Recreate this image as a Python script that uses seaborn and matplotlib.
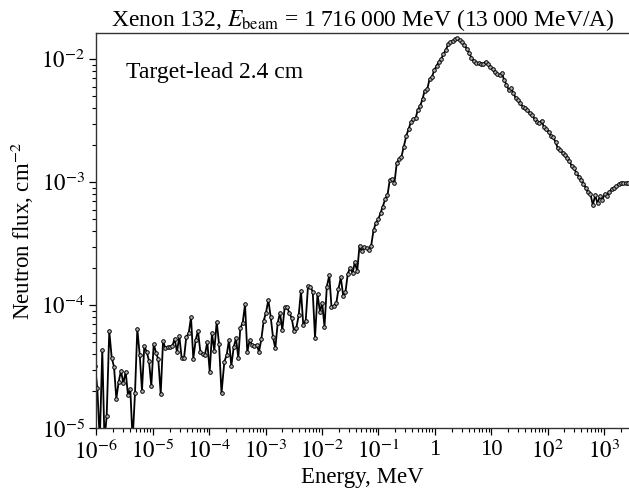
import numpy as np
import pandas as pd
import matplotlib
matplotlib.use("Agg")
import matplotlib.pyplot as plt
import matplotlib.ticker as mticker
import seaborn as sns

# log10 of energy (MeV) and log10 of neutron flux (cm^-2)
log_energy = [
    -6.023, -5.982, -5.938, -5.894, -5.855, -5.816, -5.770, -5.727, -5.686, -5.645,
    -5.603, -5.562, -5.521, -5.479, -5.438, -5.397, -5.356, -5.314, -5.273, -5.230,
    -5.190, -5.149, -5.106, -5.066, -5.025, -4.982, -4.941, -4.901, -4.858, -4.817,
    -4.777, -4.734, -4.693, -4.652, -4.610, -4.569, -4.528, -4.486, -4.445, -4.404,
    -4.362, -4.321, -4.280, -4.238, -4.197, -4.156, -4.113, -4.073, -4.032, -3.989,
    -3.949, -3.908, -3.865, -3.824, -3.780, -3.730, -3.688, -3.647, -3.606, -3.564,
    -3.523, -3.482, -3.447, -3.404, -3.363, -3.323, -3.280, -3.239, -3.199, -3.156,
    -3.115, -3.074, -3.032, -2.991, -2.950, -2.908, -2.867, -2.826, -2.784, -2.743,
    -2.702, -2.660, -2.619, -2.578, -2.535, -2.495, -2.454, -2.411, -2.371, -2.330,
    -2.287, -2.246, -2.206, -2.163, -2.122, -2.078, -2.034, -1.995, -1.954, -1.913,
    -1.869, -1.830, -1.785, -1.745, -1.706, -1.665, -1.622, -1.582, -1.541, -1.498,
    -1.456, -1.417, -1.374, -1.333, -1.293, -1.250, -1.209, -1.168, -1.126, -1.085,
    -1.044, -1.002, -0.961, -0.920, -0.878, -0.837, -0.796, -0.754, -0.713, -0.672,
    -0.630, -0.589, -0.548, -0.505, -0.464, -0.424, -0.381, -0.340, -0.300, -0.257,
    -0.216, -0.176, -0.133, -0.092, -0.051, -0.009, 0.032, 0.073, 0.115, 0.156,
    0.197, 0.239, 0.280, 0.321, 0.363, 0.404, 0.445, 0.487, 0.528, 0.569,
    0.612, 0.652, 0.693, 0.736, 0.777, 0.818, 0.860, 0.901, 0.942, 0.984,
    1.025, 1.066, 1.108, 1.149, 1.190, 1.232, 1.273, 1.314, 1.356, 1.397,
    1.438, 1.480, 1.521, 1.562, 1.605, 1.645, 1.686, 1.729, 1.770, 1.810,
    1.853, 1.894, 1.934, 1.977, 2.018, 2.059, 2.101, 2.142, 2.183, 2.225,
    2.266, 2.307, 2.349, 2.390, 2.431, 2.473, 2.514, 2.555, 2.598, 2.638,
    2.679, 2.722, 2.762, 2.803, 2.846, 2.887, 2.927, 2.970, 3.011, 3.051,
    3.094, 3.135, 3.176, 3.218, 3.259, 3.300, 3.342, 3.383, 3.424,
]
log_flux = [
    -4.493, -4.675, -5.100, -4.363, -5.100, -4.900, -4.209, -4.426, -4.499, -4.759,
    -4.621, -4.532, -4.634, -4.540, -4.732, -4.683, -5.100, -4.715, -4.193, -4.404,
    -4.694, -4.331, -4.380, -4.450, -4.656, -4.315, -4.385, -4.439, -4.721, -4.293,
    -4.345, -4.339, -4.337, -4.331, -4.272, -4.380, -4.250, -4.431, -4.431, -4.255,
    -4.228, -4.098, -4.433, -4.282, -4.209, -4.377, -4.396, -4.402, -4.298, -4.540,
    -4.228, -4.369, -4.133, -4.315, -4.715, -4.459, -4.404, -4.282, -4.493, -4.341,
    -4.268, -4.428, -4.187, -4.141, -3.992, -4.380, -4.282, -4.323, -4.331, -4.323,
    -4.377, -4.276, -4.125, -4.060, -3.957, -4.093, -4.260, -4.350, -4.146, -4.060,
    -4.201, -4.016, -4.016, -4.060, -4.106, -4.209, -4.187, -4.079, -3.881, -4.164,
    -4.124, -3.841, -3.849, -3.888, -4.263, -3.908, -4.054, -3.979, -4.176, -3.849,
    -3.756, -4.011, -4.006, -3.984, -3.867, -3.774, -3.924, -3.892, -3.743, -3.695,
    -3.740, -3.650, -3.723, -3.515, -3.560, -3.528, -3.537, -3.550, -3.514, -3.392,
    -3.331, -3.302, -3.252, -3.197, -3.138, -3.103, -2.981, -2.976, -3.003, -2.841,
    -2.813, -2.792, -2.711, -2.624, -2.567, -2.514, -2.489, -2.481, -2.412, -2.380,
    -2.323, -2.254, -2.244, -2.164, -2.146, -2.091, -2.054, -2.020, -2.000, -1.957,
    -1.924, -1.880, -1.862, -1.849, -1.835, -1.829, -1.847, -1.863, -1.884, -1.916,
    -1.949, -1.989, -2.014, -2.028, -2.033, -2.038, -2.036, -2.020, -2.042, -2.060,
    -2.081, -2.101, -2.120, -2.132, -2.115, -2.168, -2.209, -2.250, -2.236, -2.276,
    -2.317, -2.331, -2.358, -2.388, -2.398, -2.412, -2.439, -2.453, -2.489, -2.507,
    -2.520, -2.499, -2.548, -2.571, -2.589, -2.624, -2.636, -2.672, -2.724, -2.741,
    -2.759, -2.778, -2.802, -2.827, -2.871, -2.886, -2.928, -2.954, -2.981, -3.010,
    -3.046, -3.083, -3.095, -3.185, -3.107, -3.172, -3.115, -3.144, -3.099, -3.111,
    -3.079, -3.057, -3.046, -3.034, -3.018, -3.006, -3.002, -3.006, -3.002,
]

x_ticks = [1e-6, 1e-5, 1e-4, 1e-3, 1e-2, 1e-1, 1, 10, 1e2, 1e3]
x_tick_labels = [r"$10^{-6}$", r"$10^{-5}$", r"$10^{-4}$", r"$10^{-3}$", r"$10^{-2}$",
                 r"$10^{-1}$", "1", "10", r"$10^{2}$", r"$10^{3}$"]
y_ticks = [1e-5, 1e-4, 1e-3, 1e-2]
y_tick_labels = [r"$10^{-5}$", r"$10^{-4}$", r"$10^{-3}$", r"$10^{-2}$"]

df = pd.DataFrame({
    "energy": 10.0 ** np.array(log_energy),
    "flux": 10.0 ** np.array(log_flux),
})

sns.set_theme(style="ticks")
plt.rcParams["font.family"] = ["Liberation Serif", "DejaVu Serif"]
plt.rcParams["mathtext.fontset"] = "stix"

fig = plt.figure(figsize=(6.29, 4.95), dpi=100)
ax = fig.add_axes([96.3 / 629, 66.7 / 495, 1 - 96.3 / 629, (428.3 - 33.3) / 495])

sns.lineplot(data=df, x="energy", y="flux", ax=ax, color="black", linewidth=1.3,
             marker="o", markersize=2.6, markerfacecolor="#b4b4b4",
             markeredgecolor="black", markeredgewidth=0.7, sort=False)

ax.set_xscale("log")
ax.set_yscale("log")
ax.set_xlim(1e-6, 10 ** 3.445)
ax.set_ylim(1e-5, 10 ** -1.789)

ax.xaxis.set_major_locator(mticker.FixedLocator(x_ticks))
ax.xaxis.set_major_formatter(mticker.FixedFormatter(x_tick_labels))
ax.xaxis.set_minor_locator(mticker.LogLocator(base=10, subs=np.arange(2, 10), numticks=30))
ax.xaxis.set_minor_formatter(mticker.NullFormatter())
ax.yaxis.set_major_locator(mticker.FixedLocator(y_ticks))
ax.yaxis.set_major_formatter(mticker.FixedFormatter(y_tick_labels))
ax.yaxis.set_minor_locator(mticker.LogLocator(base=10, subs=np.arange(2, 10), numticks=30))
ax.yaxis.set_minor_formatter(mticker.NullFormatter())

ax.tick_params(which="major", direction="out", length=5, width=0.9, labelsize=16.5,
               color="black", labelcolor="black", pad=3)
ax.tick_params(which="minor", direction="out", length=3, width=0.8, color="black")

for side in ["left", "bottom", "top"]:
    ax.spines[side].set_color("#333333")
    ax.spines[side].set_linewidth(1.0)
ax.spines["right"].set_visible(False)

ax.set_xlabel("Energy, MeV", fontsize=16.5, color="black", labelpad=2)
ax.set_ylabel(r"Neutron flux, cm$^{-2}$", fontsize=16.5, color="black", labelpad=4)
ax.set_title("Xenon 132, $E_{\\mathrm{beam}}$ = 1\u2009716\u2009000 MeV (13\u2009000 MeV/A)",
             fontsize=17, color="black", pad=4)

ax.text(0.056, 0.886, "Target-lead 2.4 cm", transform=ax.transAxes, fontsize=17,
        color="black", va="baseline", ha="left")

fig.savefig("out.png", dpi=100)
